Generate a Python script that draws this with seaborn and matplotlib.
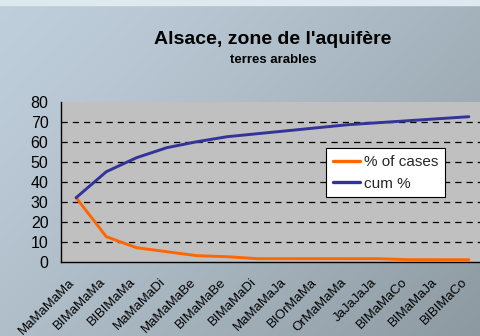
import numpy as np
import pandas as pd
import matplotlib
matplotlib.use("Agg")
import matplotlib.pyplot as plt
import matplotlib.transforms as mtransforms
import seaborn as sns

categories = ["MaMaMaMa", "BIMaMaMa", "BIBIMaMa", "MaMaMaDi", "MaMaMaBe",
              "BIMaMaBe", "BIMaMaDi", "MaMaMaJa", "BIOrMaMa", "OrMaMaMa",
              "JaJaJaJa", "BIMaMaCo", "BIMaMaJa", "BIBIMaCo"]
pct_cases = [32, 12.5, 7, 5, 3, 2.5, 1.5, 1.5, 1.5, 1.5, 1.5, 1, 1, 1]
cum_pct = [32, 45, 52, 57, 60, 62.5, 64, 65.5, 67, 68.5, 69.5, 70.5, 71.5, 72.5]
series_names = ["% of cases", "cum %"]
title = "Alsace, zone de l'aquifère"
subtitle = "terres arables"
yticks = [0, 10, 20, 30, 40, 50, 60, 70, 80]

sns.set_theme(style="white")
plt.rcParams['font.family'] = ['Liberation Sans', 'DejaVu Sans']

df = pd.DataFrame({
    "cat": categories * 2,
    "value": pct_cases + cum_pct,
    "series": [series_names[0]] * len(categories) + [series_names[1]] * len(categories),
})

W, H = 481, 336
fig = plt.figure(figsize=(W / 100, H / 100), dpi=100)

# background gradient
bg = fig.add_axes([0, 0, 1, 1])
yy, xx = np.mgrid[0:1:200j, 0:1:300j]
t = np.clip(0.6 * xx + 0.4 * yy, 0, 1) ** 1.3
c0 = np.array([0.75, 0.81, 0.86])
c1 = np.array([0.55, 0.60, 0.63])
img = c0[None, None, :] * (1 - t[..., None]) + c1[None, None, :] * t[..., None]
bg.imshow(img, aspect="auto", extent=[0, 1, 0, 1], origin="upper")
bg.axhspan(0.985, 1.0, color="#dde8ef")
bg.set_xlim(0, 1)
bg.set_ylim(0, 1)
bg.axis("off")

left = 61 / W
right = 484 / W
bottom = 1 - 261.7 / H
top = 1 - 101.7 / H
ax = fig.add_axes([left, bottom, right - left, top - bottom])
ax.set_facecolor("#c0c0c0")

sns.lineplot(data=df, x="cat", y="value", hue="series", sort=False,
             palette={"% of cases": "#ff6600", "cum %": "#333399"},
             linewidth=2.1, ax=ax, legend=True)

ax.set_xlim(-0.5, len(categories) - 0.5)
ax.set_ylim(0, 80)
ax.set_yticks(yticks)
ax.set_yticklabels([str(v) for v in yticks], fontsize=11.5, color="black")
for v in yticks[1:-1]:
    ax.axhline(v, color="black", linestyle=(0, (5, 4)), linewidth=0.9, zorder=0.5)

ax.set_xticks(range(len(categories)))
ax.set_xticklabels(categories, rotation=45, ha="right", va="center",
                   rotation_mode="anchor", fontsize=9.5, color="black")
ax.tick_params(axis="x", which="major", length=0, pad=13.5)
shift = mtransforms.ScaledTranslation(-3 / 100, 0, fig.dpi_scale_trans)
for lab in ax.get_xticklabels():
    lab.set_transform(lab.get_transform() + shift)
ax.set_xticks(np.arange(-0.5, len(categories) - 0.4, 1.0), minor=True)
ax.tick_params(axis="x", which="minor", length=4, width=1, color="black", direction="out")
ax.tick_params(axis="y", which="major", length=4, width=1, color="black", direction="out", pad=5)
ax.set_xlabel("")
ax.set_ylabel("")
for s in ["top", "right"]:
    ax.spines[s].set_visible(False)
for s in ["left", "bottom"]:
    ax.spines[s].set_color("black")
    ax.spines[s].set_linewidth(1.0)

handles, labels = ax.get_legend_handles_labels()
leg = ax.legend(handles, labels, loc="upper left",
                bbox_to_anchor=(326 / W, 1 - 148 / H), bbox_transform=fig.transFigure,
                fontsize=11, frameon=True, fancybox=False, framealpha=1,
                edgecolor="black", facecolor="white", handlelength=1.8,
                handletextpad=0.25, borderpad=0.45, labelspacing=0.5,
                borderaxespad=0)
leg.get_frame().set_linewidth(0.8)
for ln in leg.get_lines():
    ln.set_linewidth(2.4)

fig.text(273 / W, 1 - 40 / H, title, ha="center", va="center",
         fontsize=14, fontweight="bold", color="black")
fig.text(273 / W, 1 - 60 / H, subtitle, ha="center", va="center",
         fontsize=9.5, fontweight="bold", color="black")

fig.savefig("out.png", dpi=100)
